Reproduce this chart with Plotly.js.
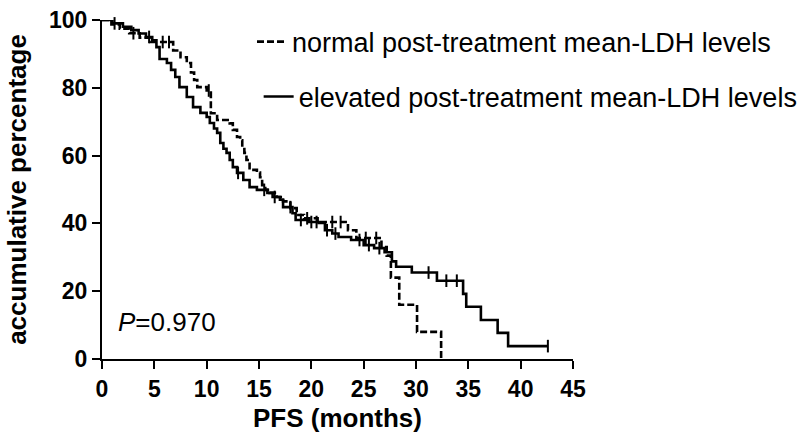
<!DOCTYPE html>
<html><head><meta charset="utf-8">
<script src="https://cdn.plot.ly/plotly-3.0.1.min.js"></script>
<style>html,body{margin:0;padding:0;background:#fff}#chart{width:799px;height:436px}</style>
</head><body><div id="chart"></div>
<script>
// Kaplan-Meier data (PFS months, accumulative percentage)
const seriesNames = ['normal post-treatment mean-LDH levels', 'elevated post-treatment mean-LDH levels'];

const normalTime = [0,0.9,1.7,2.6,3.6,4.6,6.8,7.5,8.1,8.5,8.8,9.1,10.0,10.4,11.0,12.2,12.5,12.9,13.2,13.4,13.6,13.8,14.1,14.8,15.1,15.3,15.6,16.0,16.7,17.3,18.0,18.6,19.3,20.6,23.5,24.3,26.7,27.2,27.6,28.4,30.1,32.4];
const normalSurv = [100,98.7,97.4,96.1,94.8,93.5,91.0,89.0,87.3,84.5,82.3,80.2,79.2,72.5,70.5,69.5,67.6,65.5,64.5,62.5,60.8,58.7,55.8,55.0,53.6,51.3,49.9,49.0,47.8,46.5,44.5,42.5,41.5,40.4,38.0,35.7,33.0,30.5,24.0,16.0,8.0,0];
const normalCensor = [3.0,5.8,6.4,10.2,19.6,22.0,22.8,25.2,26.2];

const elevatedTime = [0,1.0,2.0,2.8,3.5,4.2,4.8,5.2,5.5,6.2,6.6,7.0,7.4,8.1,8.7,9.4,10.0,10.3,10.7,11.0,11.3,11.6,11.9,12.2,12.5,12.9,13.5,14.1,14.8,15.8,16.3,17.0,17.3,18.2,18.5,19.8,20.7,21.3,22.0,22.6,23.8,25.0,26.0,27.0,27.7,28.1,29.6,32.0,34.5,34.8,36.2,37.8,38.8,42.6];
const elevatedSurv = [100,99,98,97,96,95,94,92,88.5,87.3,85.3,83.2,80.2,77.3,74.3,72.6,71.4,69.6,68.0,66.7,63.7,62.0,60.8,58.7,56.6,54.9,52.8,50.7,49.9,49.0,47.8,47.0,44.8,43.0,41.0,40.4,40.1,38.0,37.0,36.0,35.1,33.6,32.7,31.5,28.8,27.2,25.5,23.1,19.2,15.4,11.5,7.7,3.8,3.8];
const elevatedCensor = [1.2,4.5,13.0,15.5,16.5,18.0,19.0,20.0,20.5,21.5,22.3,24.6,25.5,26.5,31.2,32.9,33.9,42.6];

const xTicks = [0,5,10,15,20,25,30,35,40,45];
const yTicks = [0,20,40,60,80,100];
const pText = '<i>P</i>=0.970';

function stepAt(times, surv, x) {
  let v = surv[0];
  for (let i = 0; i < times.length; i++) { if (times[i] <= x) v = surv[i]; }
  return v;
}

const FONT = 'Liberation Sans, Arial, Helvetica, sans-serif';
const censorMarker = {symbol: 'line-ns-open', size: 9, color: '#000', line: {width: 2, color: '#000'}};

const traces = [
  {x: normalTime, y: normalSurv, type: 'scatter', mode: 'lines', line: {shape: 'hv', color: '#000', width: 2.6, dash: '7px,3px'},
   name: seriesNames[0], legend: 'legend', cliponaxis: false},
  {x: elevatedTime, y: elevatedSurv, type: 'scatter', mode: 'lines', line: {shape: 'hv', color: '#000', width: 2.6},
   name: seriesNames[1], legend: 'legend2', cliponaxis: false},
  {x: normalCensor, y: normalCensor.map(t => stepAt(normalTime, normalSurv, t)), type: 'scatter', mode: 'markers',
   marker: censorMarker, showlegend: false, cliponaxis: false},
  {x: elevatedCensor, y: elevatedCensor.map(t => stepAt(elevatedTime, elevatedSurv, t)), type: 'scatter', mode: 'markers',
   marker: censorMarker, showlegend: false, cliponaxis: false}
];

const axisCommon = {
  showgrid: false, zeroline: false, showline: true, linecolor: '#000', linewidth: 2,
  ticks: 'outside', ticklen: 8, tickwidth: 2, tickcolor: '#000',
  tickfont: {family: FONT, size: 23, color: '#000', weight: 'bold'}
};

const layout = {
  width: 799, height: 436,
  margin: {l: 102, r: 226, t: 20, b: 77, autoexpand: false},
  paper_bgcolor: '#fff', plot_bgcolor: '#fff',
  xaxis: Object.assign({}, axisCommon, {range: [0, 45], tickvals: xTicks, ticktext: xTicks.map(String), automargin: false,
    title: {text: 'PFS (months)', font: {family: FONT, size: 26, color: '#000', weight: 'bold'}, standoff: 8}}),
  yaxis: Object.assign({}, axisCommon, {range: [0, 100], tickvals: yTicks, ticktext: yTicks.map(String), automargin: false,
    title: {text: 'accumulative percentage', font: {family: FONT, size: 26, color: '#000', weight: 'bold'}, standoff: 15}}),
  legend: {x: 0.3185, y: 0.935, xanchor: 'left', yanchor: 'middle', bgcolor: 'rgba(0,0,0,0)',
    font: {family: FONT, size: 27, color: '#000'}},
  legend2: {x: 0.3326, y: 0.773, xanchor: 'left', yanchor: 'middle', bgcolor: 'rgba(0,0,0,0)',
    font: {family: FONT, size: 27, color: '#000'}},
  annotations: [{text: pText, xref: 'paper', yref: 'paper', x: 0.03, y: 0.109, xanchor: 'left', yanchor: 'middle',
    showarrow: false, font: {family: FONT, size: 26, color: '#000'}}],
  showlegend: true
};

Plotly.newPlot('chart', traces, layout, {displayModeBar: false, staticPlot: true});
</script>
</body></html>
